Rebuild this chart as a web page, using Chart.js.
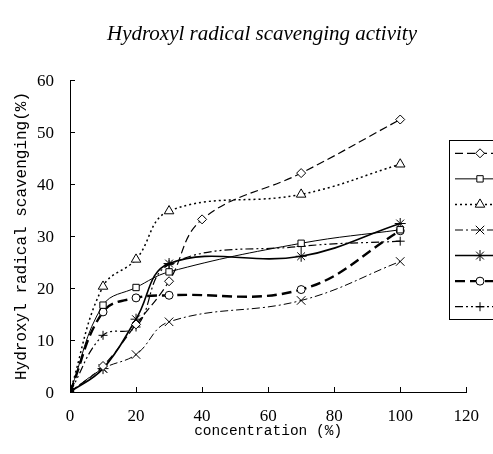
<!DOCTYPE html>
<html>
<head>
<meta charset="utf-8">
<title>Hydroxyl radical scavenging activity</title>
<script src="https://cdn.jsdelivr.net/npm/chart.js@4.4.1/dist/chart.umd.min.js"></script>
<style>
    html, body { margin: 0; padding: 0; background: #fff; }
    #wrap { width: 493px; height: 454px; position: relative; }
</style>
</head>
<body>
<div id="wrap"><canvas id="scavenging-chart"></canvas></div>
<script>
/* ── Data ── */
// concentration (%) — the diamond series carries an extra 40% reading
var concDiamond = [0, 10, 20, 30, 40, 70, 100];
var concOther = [0, 10, 20, 30, 70, 100];

var seriesNames = ['Series 1', 'Series 2', 'Series 3', 'Series 4', 'Series 5', 'Series 6', 'Series 7'];

var diamondVals = [0, 5, 13, 21.3, 33.2, 42.1, 52.4];
var squareVals = [0, 16.7, 20.1, 23.1, 28.6, 31.2];
var triangleVals = [0, 20.3, 25.5, 34.8, 38, 43.8];
var crossVals = [0, 4.5, 7.2, 13.5, 17.6, 25.1];
var starVals = [0, 4.5, 14, 24.7, 26.1, 32.4];
var circleVals = [0, 15.4, 18.1, 18.6, 19.7, 31];
var plusVals = [0, 10.9, 12.5, 24.5, 28, 29];

var xTickValues = [0, 20, 40, 60, 80, 100, 120];
var yTickValues = [0, 10, 20, 30, 40, 50, 60];

/* ── Helpers ── */
function pairUp(xs, ys) {
    return xs.map(function (x, i) { return { x: x, y: ys[i] }; });
}

// every series starts from the same filled black square at the origin
function makeSeries(name, xs, ys, style, radius, dash, width) {
    return {
        label: name,
        data: pairUp(xs, ys),
        borderColor: '#000',
        borderWidth: width,
        borderDash: dash,
        tension: 0.4,
        fill: false,
        markerStyle: style,
        markerRadius: radius,
        pointStyle: function (c) { return c.dataIndex === 0 ? 'rect' : style; },
        pointRadius: function (c) { return c.dataIndex === 0 ? 5 : radius; },
        pointBackgroundColor: function (c) { return c.dataIndex === 0 ? '#000' : '#fff'; },
        pointBorderColor: '#000',
        pointBorderWidth: 1,
        pointHoverRadius: radius
    };
}

/* ── Inward tick marks (Excel style) ── */
var inwardTicks = {
    id: 'inwardTicks',
    afterDraw: function (chart) {
        var ctx = chart.ctx, area = chart.chartArea;
        var xs = chart.scales.x, ys = chart.scales.y;
        ctx.save();
        ctx.strokeStyle = '#000';
        ctx.lineWidth = 1;
        ctx.beginPath();
        ys.ticks.forEach(function (t) {
            var py = Math.round(ys.getPixelForValue(t.value)) + 0.5;
            ctx.moveTo(area.left, py);
            ctx.lineTo(area.left + 5, py);
        });
        xs.ticks.forEach(function (t) {
            var px = Math.round(xs.getPixelForValue(t.value)) + 0.5;
            ctx.moveTo(px, area.bottom);
            ctx.lineTo(px, area.bottom - 5);
        });
        ctx.stroke();
        ctx.restore();
    }
};

/* ── Chart title drawn above the plot ── */
var topTitle = {
    id: 'topTitle',
    afterDraw: function (chart) {
        var ctx = chart.ctx;
        ctx.save();
        ctx.fillStyle = '#000';
        ctx.font = 'italic 21px "Liberation Serif"';
        ctx.textAlign = 'center';
        ctx.textBaseline = 'alphabetic';
        ctx.fillText('Hydroxyl radical scavenging activity', 262, 40);
        ctx.restore();
    }
};

/* ── Legend box, clipped at the right edge like the source ── */
var boxLegend = {
    id: 'boxLegend',
    afterDraw: function (chart) {
        var ctx = chart.ctx;
        var left = 449.5, top = 140.5, h = 179;
        var rowH = h / chart.data.datasets.length;
        ctx.save();
        ctx.fillStyle = '#fff';
        ctx.fillRect(left, top, 60, h);
        ctx.strokeStyle = '#000';
        ctx.lineWidth = 1;
        ctx.strokeRect(left, top, 60, h);

        chart.data.datasets.forEach(function (ds, i) {
            var cy = top + rowH * (i + 0.5);
            ctx.save();
            ctx.strokeStyle = '#000';
            ctx.lineWidth = ds.borderWidth;
            ctx.setLineDash(ds.borderDash);
            ctx.beginPath();
            ctx.moveTo(455, cy);
            ctx.lineTo(495, cy);
            ctx.stroke();
            ctx.setLineDash([]);
            ctx.fillStyle = '#fff';
            ctx.lineWidth = 1;
            Chart.helpers.drawPoint(ctx, {
                pointStyle: ds.markerStyle,
                radius: ds.markerRadius,
                rotation: 0,
                borderWidth: 1
            }, 480, cy);
            ctx.restore();
        });
        ctx.restore();
    }
};

/* ── Build ── */
Chart.defaults.font.family = '"Liberation Serif", serif';
Chart.defaults.color = '#000';

var datasets = [
    makeSeries(seriesNames[0], concDiamond, diamondVals, 'rectRot', 4.5, [8, 4], 1.2),
    makeSeries(seriesNames[1], concOther, squareVals, 'rect', 4.5, [], 1),
    makeSeries(seriesNames[2], concOther, triangleVals, 'triangle', 5.5, [2, 3], 1.5),
    makeSeries(seriesNames[3], concOther, crossVals, 'crossRot', 6, [8, 3, 2, 3], 1),
    makeSeries(seriesNames[4], concOther, starVals, 'star', 5.5, [], 1.6),
    makeSeries(seriesNames[5], concOther, circleVals, 'circle', 4, [10, 5], 2.4),
    makeSeries(seriesNames[6], concOther, plusVals, 'cross', 4.5, [8, 3, 2, 3, 2, 3], 1.2)
];

var ctx = document.getElementById('scavenging-chart').getContext('2d');
var scavengingChart = new Chart(ctx, {
    type: 'line',
    data: { datasets: datasets },
    options: {
        responsive: true,
        maintainAspectRatio: false,
        animation: false,
        layout: { padding: { top: 80, right: 15, bottom: 0, left: 0 } },
        plugins: {
            legend: { display: false },
            title: { display: false },
            tooltip: { enabled: false }
        },
        scales: {
            x: {
                type: 'linear',
                min: 0,
                max: 120,
                grid: { display: false, drawTicks: false },
                border: { display: true, color: '#000', width: 1 },
                afterBuildTicks: function (s) { s.ticks = xTickValues.map(function (v) { return { value: v }; }); },
                afterFit: function (s) { s.height = 62; },
                ticks: { padding: 14, font: { size: 17 }, maxRotation: 0 },
                title: {
                    display: true,
                    text: 'concentration (%)',
                    font: { family: '"Liberation Mono", monospace', size: 14.5 },
                    padding: { top: 0, bottom: 14 }
                }
            },
            y: {
                min: 0,
                max: 60,
                grid: { display: false, drawTicks: false },
                border: { display: true, color: '#000', width: 1 },
                afterBuildTicks: function (s) { s.ticks = yTickValues.map(function (v) { return { value: v }; }); },
                afterFit: function (s) { s.width = 70; },
                ticks: { padding: 16, font: { size: 17 }, labelOffset: 2 },
                title: {
                    display: true,
                    text: 'Hydroxyl radical scavenging(%)',
                    font: { family: '"Liberation Mono", monospace', size: 16 },
                    padding: { top: 12, bottom: 0 }
                }
            }
        }
    },
    plugins: [inwardTicks, topTitle, boxLegend]
});
</script>
</body>
</html>
